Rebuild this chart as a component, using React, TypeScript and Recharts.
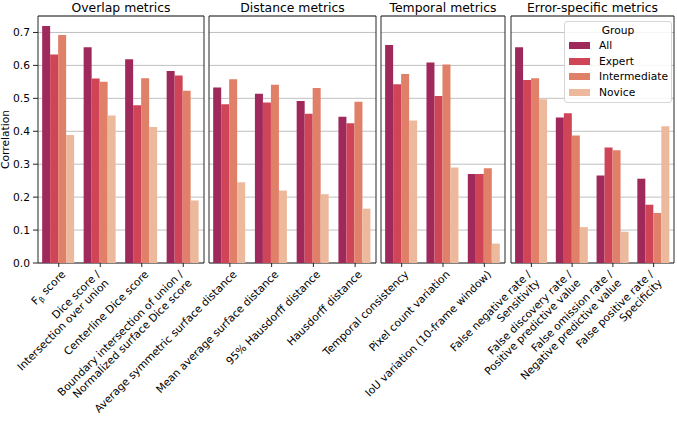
import { BarChart, Bar, XAxis, YAxis, CartesianGrid, ReferenceArea, Legend } from "recharts";

const overlapMetrics = [
  "Fβ score",
  "Dice score /\nIntersection over union",
  "Centerline Dice score",
  "Boundary intersection of union /\nNormalized surface Dice score",
];
const distanceMetrics = [
  "Average symmetric surface distance",
  "Mean average surface distance",
  "95% Hausdorff distance",
  "Hausdorff distance",
];
const temporalMetrics = [
  "Temporal consistency",
  "Pixel count variation",
  "IoU variation (10-frame window)",
];
const errorMetrics = [
  "False negative rate /\nSensitivity",
  "False discovery rate /\nPositive predictive value",
  "False omission rate /\nNegative predictive value",
  "False positive rate /\nSpecificity",
];

// one value per metric, in the order above
const allValues = [0.72, 0.655, 0.619, 0.583, 0.533, 0.514, 0.492, 0.444, 0.662, 0.609, 0.27, 0.655, 0.442, 0.266, 0.256];
const expertValues = [0.633, 0.56, 0.479, 0.569, 0.482, 0.487, 0.453, 0.424, 0.543, 0.507, 0.27, 0.556, 0.455, 0.351, 0.177];
const intermediateValues = [0.692, 0.55, 0.561, 0.523, 0.558, 0.541, 0.531, 0.49, 0.574, 0.603, 0.288, 0.561, 0.387, 0.342, 0.152];
const noviceValues = [0.389, 0.448, 0.413, 0.19, 0.245, 0.22, 0.209, 0.165, 0.433, 0.29, 0.059, 0.497, 0.109, 0.095, 0.415];

const groupNames = ["All", "Expert", "Intermediate", "Novice"];
const groupColors = ["#A0295C", "#CF4456", "#E08068", "#EDB99C"];
const yTicks = [0, 0.1, 0.2, 0.3, 0.4, 0.5, 0.6, 0.7];

const allMetrics = [...overlapMetrics, ...distanceMetrics, ...temporalMetrics, ...errorMetrics];
const rows = allMetrics.map((metric, i) => ({
  metric,
  All: allValues[i],
  Expert: expertValues[i],
  Intermediate: intermediateValues[i],
  Novice: noviceValues[i],
}));

const panels = [
  { title: "Overlap metrics", metrics: overlapMetrics, left: 38, right: 204 },
  { title: "Distance metrics", metrics: distanceMetrics, left: 209, right: 376 },
  { title: "Temporal metrics", metrics: temporalMetrics, left: 381, right: 505 },
  { title: "Error-specific metrics", metrics: errorMetrics, left: 511, right: 674 },
];

const W = 677;
const H = 424;
const FONT = 10.7;

function renderLine(line: string) {
  if (line.startsWith("Fβ")) {
    return (
      <>
        F
        <tspan dy={2.5} fontSize={7.5}>β</tspan>
        <tspan dy={-2.5}>{line.slice(2)}</tspan>
      </>
    );
  }
  return line;
}

function XTick({ x, y, payload }: { x?: number; y?: number; payload?: { value: string } }) {
  const lines = String(payload?.value ?? "").split("\n");
  const shift = (lines.length - 1) * 7;
  return (
    <text
      transform={`translate(${(x ?? 0) + 7.5 - shift},${(y ?? 0) + 6}) rotate(-45)`}
      textAnchor="end"
      fontSize={FONT}
      fill="#000"
    >
      {lines.map((line, i) => (
        <tspan key={i} x={0} dy={i === 0 ? 0 : 12.2}>
          {renderLine(line)}
        </tspan>
      ))}
    </text>
  );
}

function GroupLegend({ payload }: { payload?: { value: string; color: string }[] }) {
  return (
    <div
      style={{
        position: "relative",
        width: 106,
        height: 80,
        border: "1px solid #d6d6d6",
        borderRadius: 3,
        background: "rgba(255,255,255,0.85)",
        fontSize: FONT,
        color: "#000",
      }}
    >
      <div style={{ position: "absolute", top: 2, left: 0, width: "100%", textAlign: "center", lineHeight: "13px" }}>
        Group
      </div>
      {(payload ?? []).map((p, i) => (
        <div key={p.value} style={{ position: "absolute", left: 4, top: 17 + i * 15.5, height: 13, display: "flex", alignItems: "center" }}>
          <span style={{ display: "inline-block", width: 21, height: 7, background: p.color, marginRight: 9 }} />
          <span style={{ lineHeight: "13px" }}>{p.value}</span>
        </div>
      ))}
    </div>
  );
}

export default function App() {
  return (
    <div style={{ position: "absolute", left: 0, top: 0, width: W, height: H, background: "#fff", fontFamily: "DejaVu Sans" }}>
      {panels.map((panel, idx) => {
        const first = idx === 0;
        const last = idx === panels.length - 1;
        const data = rows.filter((r) => panel.metrics.includes(r.metric));
        return (
          <div key={panel.title} style={{ position: "absolute", left: 0, top: 0 }}>
            <BarChart
              width={W}
              height={H}
              data={data}
              margin={{ top: 16, bottom: 0, left: first ? 0 : panel.left, right: W - panel.right }}
              barCategoryGap="10%"
              barGap={0}
            >
              <CartesianGrid vertical={false} stroke="#b0b0b0" strokeWidth={0.8} />
              <XAxis
                dataKey="metric"
                interval={0}
                height={H - 263}
                axisLine={false}
                tickLine={{ stroke: "#222" }}
                tickSize={4}
                tick={<XTick />}
              />
              <YAxis
                domain={[0, 0.75]}
                ticks={yTicks}
                hide={!first}
                width={first ? 38 : 0}
                axisLine={false}
                tickLine={{ stroke: "#222" }}
                tickSize={5}
                tickMargin={3}
                tick={{ fill: "#000", fontSize: FONT }}
                tickFormatter={(v: number) => v.toFixed(1)}
                label={
                  first
                    ? {
                        value: "Correlation",
                        angle: -90,
                        position: "insideLeft",
                        offset: 5,
                        fontSize: FONT,
                        fill: "#000",
                        style: { textAnchor: "middle" },
                      }
                    : undefined
                }
              />
              {groupNames.map((g, i) => (
                <Bar key={g} dataKey={g} name={g} fill={groupColors[i]} isAnimationActive={false} />
              ))}
              <ReferenceArea
                y1={0}
                y2={0.75}
                fill="none"
                stroke="#262626"
                strokeWidth={1}
                label={{ value: panel.title, position: "top", offset: 4.5, fontSize: 12.4, fill: "#000" }}
              />
              {last && (
                <Legend
                  layout="vertical"
                  align="center"
                  verticalAlign="middle"
                  content={<GroupLegend />}
                  wrapperStyle={{ left: 564, top: 21, width: 108, height: 82 }}
                />
              )}
            </BarChart>
          </div>
        );
      })}
    </div>
  );
}
